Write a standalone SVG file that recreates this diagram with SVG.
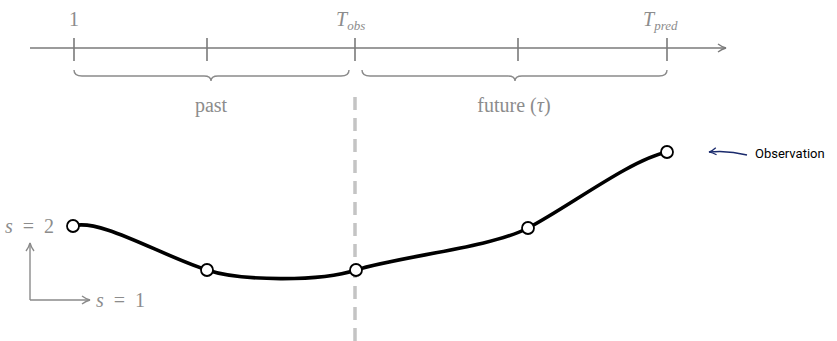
<svg xmlns="http://www.w3.org/2000/svg" width="837" height="341" viewBox="0 0 837 341">
<defs>
<style>
.ax{stroke:#7a7a7a;stroke-width:1.6;fill:none}
.br{stroke:#8a8a8a;stroke-width:1.4;fill:none}
.lbl{font-family:"Liberation Serif","DejaVu Serif",serif;font-size:20px;fill:#8c8c8c}
.mi{font-style:italic}
.sub{font-size:13px;font-style:italic}
.pt{fill:#fff;stroke:#000;stroke-width:1.8}
</style>
<marker id="ah" viewBox="0 0 10 10" refX="9" refY="5" markerWidth="10" markerHeight="10" markerUnits="userSpaceOnUse" orient="auto">
<path d="M1,1 Q5,4 9,5 Q5,6 1,9" fill="none" stroke="#7a7a7a" stroke-width="1.4"/>
</marker>
<marker id="ahg" viewBox="0 0 10 10" refX="9" refY="5" markerWidth="10" markerHeight="10" markerUnits="userSpaceOnUse" orient="auto">
<path d="M1,1 Q5,4 9,5 Q5,6 1,9" fill="none" stroke="#8a8a8a" stroke-width="1.4"/>
</marker>
<marker id="ahn" viewBox="0 0 10 10" refX="9" refY="5" markerWidth="9" markerHeight="9" markerUnits="userSpaceOnUse" orient="auto">
<path d="M1,1 Q5,4 9,5 Q5,6 1,9" fill="none" stroke="#1a2a6c" stroke-width="1.4"/>
</marker>
</defs>
<rect width="837" height="341" fill="#fff"/>
<g id="timeline">
<line class="ax" x1="30" y1="48" x2="726" y2="48" marker-end="url(#ah)"/>
<line class="ax" x1="74" y1="38" x2="74" y2="61"/>
<line class="ax" x1="207" y1="38" x2="207" y2="61"/>
<line class="ax" x1="355" y1="38" x2="355" y2="61"/>
<line class="ax" x1="518" y1="38" x2="518" y2="61"/>
<line class="ax" x1="667" y1="38" x2="667" y2="61"/>
<text class="lbl" x="74" y="26" text-anchor="middle">1</text>
<text class="lbl" x="336" y="26"><tspan class="mi">T</tspan><tspan class="sub" dy="4">obs</tspan></text>
<text class="lbl" x="643" y="26"><tspan class="mi">T</tspan><tspan class="sub" dy="4">pred</tspan></text>
</g>
<g id="past">
<path class="br" d="M74,70 Q74,76 82,76 L204,76 Q211,76 211,81 Q211,76 218,76 L341,76 Q349,76 349,70"/>
<text class="lbl" x="211" y="112" text-anchor="middle">past</text>
</g>
<g id="future">
<path class="br" d="M362,70 Q362,76 370,76 L508,76 Q515,76 515,81 Q515,76 522,76 L659,76 Q667,76 667,70"/>
<text class="lbl" x="514" y="112" text-anchor="middle">future (<tspan class="mi">τ</tspan>)</text>
</g>
<g id="divider">
<line x1="355" y1="97" x2="355" y2="341" stroke="#c4c4c4" stroke-width="3.5" stroke-dasharray="13,8"/>
</g>
<g id="axes">
<line class="br" x1="30" y1="300" x2="30" y2="243" marker-end="url(#ahg)"/>
<line class="br" x1="30" y1="300" x2="90" y2="300" marker-end="url(#ahg)"/>
<text class="lbl" x="5" y="233" word-spacing="5"><tspan class="mi">s</tspan> = 2</text>
<text class="lbl" x="96" y="307" word-spacing="5"><tspan class="mi">s</tspan> = 1</text>
</g>
<g id="connectors">
<path d="M73,226 C100,218 160,255 207,270 C240,281 320,282 356,270 C400,256 490,248 528,228 C570,206 630,160 667,152" fill="none" stroke="#000" stroke-width="3.6"/>
<path d="M747,155 Q728,150 709,152" fill="none" stroke="#1a2a6c" stroke-width="1.5" marker-end="url(#ahn)"/>
</g>
<g id="p1"><circle class="pt" cx="73" cy="226" r="6"/></g>
<g id="p2"><circle class="pt" cx="207" cy="270" r="6"/></g>
<g id="p3"><circle class="pt" cx="356" cy="270" r="6"/></g>
<g id="p4"><circle class="pt" cx="528" cy="228" r="6"/></g>
<g id="p5"><circle class="pt" cx="667" cy="152" r="6"/></g>
<g id="observation">
<text x="755" y="158" font-family="Roboto,'Noto Sans',sans-serif" font-size="13" fill="#000">Observation</text>
</g>
</svg>
